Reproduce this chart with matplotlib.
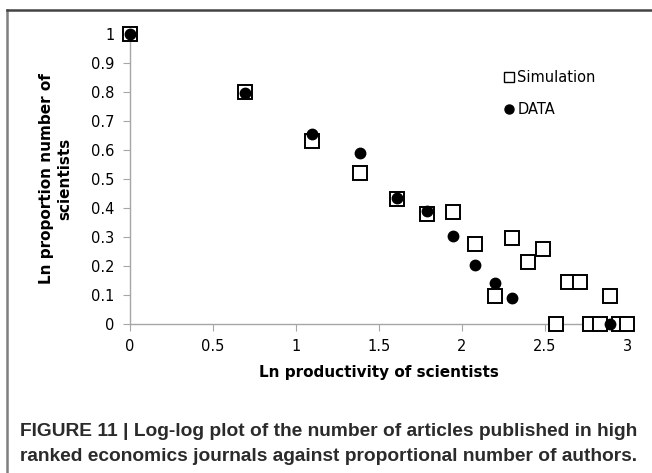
import matplotlib
matplotlib.use('Agg')
import matplotlib.pyplot as plt
from matplotlib.lines import Line2D

# ln(productivity) for n = 1..20 articles
sim_x = [0.0, 0.693, 1.099, 1.386, 1.609, 1.792, 1.946, 2.079, 2.197, 2.303,
         2.398, 2.485, 2.565, 2.639, 2.708, 2.773, 2.833, 2.890, 2.944, 2.996]
sim_y = [1.0, 0.80, 0.63, 0.52, 0.43, 0.38, 0.385, 0.275, 0.095, 0.295,
         0.215, 0.26, 0.0, 0.145, 0.145, 0.0, 0.0, 0.095, 0.0, 0.0]

data_x = [0.0, 0.693, 1.099, 1.386, 1.609, 1.792, 1.946, 2.079, 2.197, 2.303, 2.890]
data_y = [1.0, 0.795, 0.655, 0.59, 0.435, 0.39, 0.305, 0.205, 0.14, 0.09, 0.0]

x_ticks = [0, 0.5, 1, 1.5, 2, 2.5, 3]
x_labels = ['0', '0.5', '1', '1.5', '2', '2.5', '3']
y_ticks = [0, 0.1, 0.2, 0.3, 0.4, 0.5, 0.6, 0.7, 0.8, 0.9, 1.0]
y_labels = ['0', '0.1', '0.2', '0.3', '0.4', '0.5', '0.6', '0.7', '0.8', '0.9', '1']

caption = ('FIGURE 11 | Log-log plot of the number of articles published in high\n'
           'ranked economics journals against proportional number of authors.')

fig = plt.figure(figsize=(6.52, 4.73), dpi=100)
ax = fig.add_axes([130 / 652, 149 / 473, 498 / 652, 290 / 473])

ax.plot(sim_x, sim_y, linestyle='none', marker='s', markersize=9.5,
        markerfacecolor='white', markeredgecolor='black', markeredgewidth=1.4,
        clip_on=False, label='Simulation', zorder=3)
ax.plot(data_x, data_y, linestyle='none', marker='o', markersize=7.5,
        color='black', clip_on=False, label='DATA', zorder=4)

ax.set_xlim(0, 3)
ax.set_ylim(0, 1)
ax.set_xticks(x_ticks)
ax.set_xticklabels(x_labels)
ax.set_yticks(y_ticks)
ax.set_yticklabels(y_labels)

for side in ['top', 'right']:
    ax.spines[side].set_visible(False)
for side in ['left', 'bottom']:
    ax.spines[side].set_color('#a6a6a6')
    ax.spines[side].set_linewidth(1.0)
ax.tick_params(direction='out', length=5, color='#a6a6a6', labelsize=10.5,
               labelcolor='black', pad=6)

ax.set_xlabel('Ln productivity of scientists', fontsize=11, fontweight='bold',
              labelpad=8)
ax.set_ylabel('Ln proportion number of\nscientists', fontsize=11,
              fontweight='bold', labelpad=14)

leg = ax.legend(loc='upper left', bbox_to_anchor=(0.74, 0.895), frameon=False,
                fontsize=10.5, handlelength=0.6, handletextpad=0.3,
                labelspacing=1.15, borderaxespad=0)
for h in leg.legend_handles:
    h.set_markersize(7.5 if h.get_marker() == 's' else 6.5)
    h.set_markeredgewidth(1.0)

fig.text(20 / 652, 1 - 444 / 473, caption, fontsize=13.8, fontweight='bold',
         family='Liberation Sans', color='#2b2b2b', va='center', ha='left',
         linespacing=1.55)

# frame lines of the figure panel
fig.add_artist(Line2D([7 / 652, 7 / 652], [0, 1 - 10 / 473], color='#7f7f7f',
                      linewidth=1.8, transform=fig.transFigure))
fig.add_artist(Line2D([7 / 652, 1], [1 - 10 / 473, 1 - 10 / 473],
                      color='#444444', linewidth=1.8, transform=fig.transFigure))

fig.savefig('out.png', dpi=100)
